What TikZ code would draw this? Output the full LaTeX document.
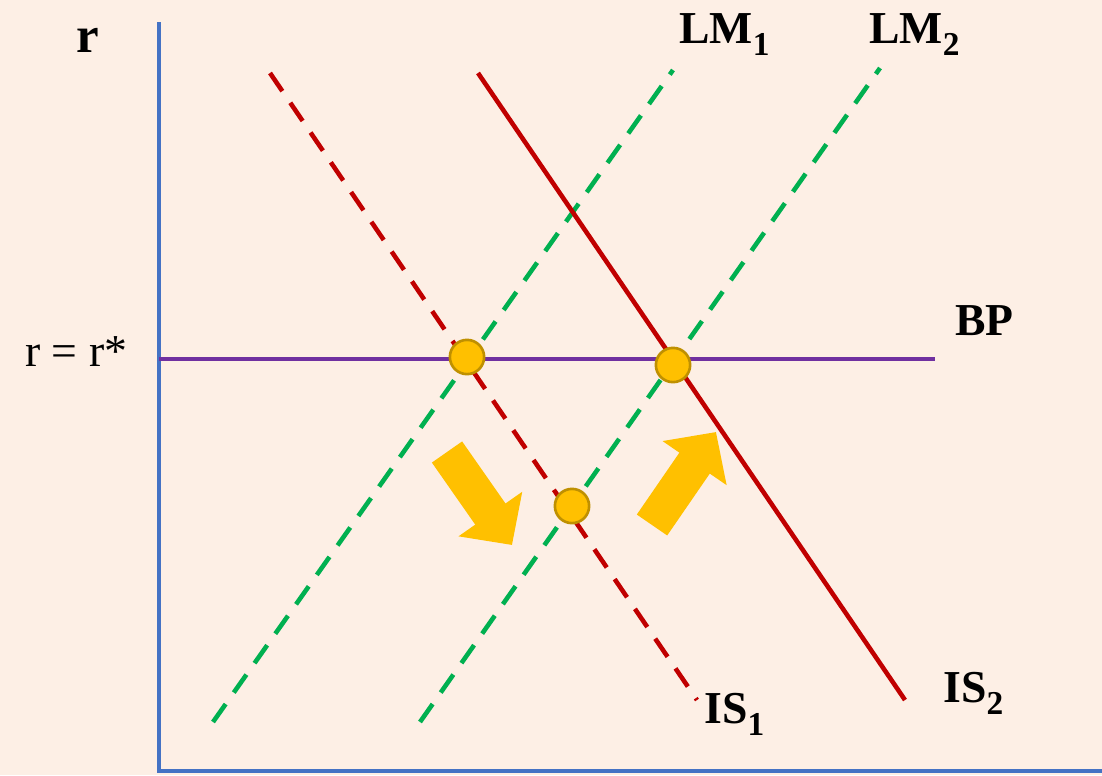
\documentclass[tikz,border=0pt]{standalone}
\usepackage{fontspec}
\setmainfont{Liberation Serif}
\usetikzlibrary{arrows.meta}
\definecolor{bgc}{RGB}{253,239,229}
\definecolor{axisblue}{RGB}{68,114,196}
\definecolor{bppurple}{RGB}{112,48,160}
\definecolor{lmgreen}{RGB}{0,176,80}
\definecolor{isred}{RGB}{192,0,0}
\definecolor{gold}{RGB}{255,192,0}
\definecolor{goldedge}{RGB}{191,144,0}
\newcommand\lowsub[1]{\raisebox{-7pt}{\fontsize{19}{19}\selectfont #1}}
\tikzset{
  lbl/.style={anchor=base west, inner sep=0pt, font=\fontsize{26}{26}\selectfont\bfseries},
  curve/.style={line width=2.6pt},
  dsh/.style={curve, dash pattern=on 12.5pt off 8pt},
  eqpt/.style={circle, fill=gold, draw=goldedge, line width=1.5pt, minimum size=19.5pt, inner sep=0pt},
  bigarrow/.style={draw=gold, line width=21pt, -{Triangle[length=21.5pt, width=43pt]}},
}
\begin{document}
\begin{tikzpicture}[x=0.02cm, y=-0.02cm]
\fill[bgc] (0,0) rectangle (1102,775);
\useasboundingbox (0,0) rectangle (1102,775);
% axes
\coordinate (otop) at (159,22);
\coordinate (oorig) at (159,771);
\coordinate (xend) at (1102,771);
\draw[axisblue, line width=2.8pt] (otop) -- (oorig) -- (xend);
% BP
\coordinate (bpa) at (159,359);
\coordinate (bpb) at (935,359);
\draw[bppurple, curve] (bpa) -- (bpb);
% LM curves
\coordinate (lm1a) at (213,722);
\coordinate (lm1b) at (673,70);
\coordinate (lm2a) at (420,722);
\coordinate (lm2b) at (880,68);
\draw[lmgreen, dsh] (lm1a) -- (lm1b);
\draw[lmgreen, dsh] (lm2a) -- (lm2b);
% IS curves
\coordinate (is1a) at (270,73);
\coordinate (is1b) at (697,700);
\coordinate (is2a) at (478,73);
\coordinate (is2b) at (905,700);
\draw[isred, dsh] (is1a) -- (is1b);
\draw[isred, curve] (is2a) -- (is2b);
% arrows
\coordinate (d1) at (447,452);
\coordinate (d2) at (512,545);
\coordinate (u1) at (652,525);
\coordinate (u2) at (716,432);
\draw[bigarrow] (d1) -- (d2);
\draw[bigarrow] (u1) -- (u2);
% equilibrium points
\node[eqpt] (e1) at (467,357) {};
\node[eqpt] (e2) at (673,365) {};
\node[eqpt] (e3) at (572,506) {};
% labels
\node[lbl, font=\fontsize{29}{29}\selectfont\bfseries] (rlab) at (76,52) {r};
\node[lbl, font=\fontsize{26}{26}\selectfont] (rstar) at (25,366) {r = r*};
\node[lbl] (bplab) at (955,335) {BP};
\node[lbl] (lm1lab) at (679,43) {LM\lowsub{1}};
\node[lbl] (lm2lab) at (869,43) {LM\lowsub{2}};
\node[lbl] (is1lab) at (704,723) {IS\lowsub{1}};
\node[lbl] (is2lab) at (943,702) {IS\lowsub{2}};
\end{tikzpicture}
\end{document}
